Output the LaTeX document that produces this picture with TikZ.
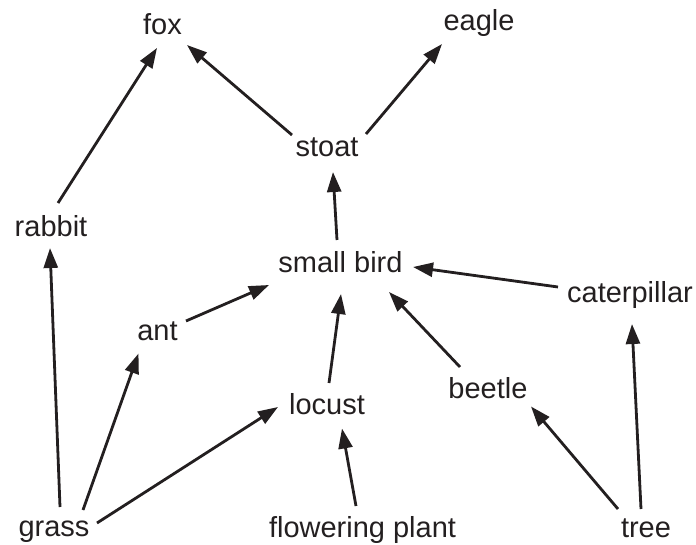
\documentclass[tikz,border=0pt]{standalone}
\usepackage{fontspec}
\setmainfont{Liberation Sans}
\usetikzlibrary{arrows.meta}
\definecolor{ink}{HTML}{231F20}
\begin{document}
\begin{tikzpicture}[x=1pt,y=-1pt,
  lbl/.style={anchor=base,inner sep=0pt,text=ink,font=\fontsize{29}{34}\selectfont},
  feed/.style={draw=ink,line width=2.8pt,-{Triangle[length=20pt,width=14pt]}}]
\useasboundingbox (0,0) rectangle (696,545);
\node[lbl] (fox) at (162.5,35) {fox};
\node[lbl] (eagle) at (479,31) {eagle};
\node[lbl] (stoat) at (327,157) {stoat};
\node[lbl] (rabbit) at (51,237) {rabbit};
\node[lbl] (bird) at (340.5,273) {small bird};
\node[lbl] (cat) at (630,303) {caterpillar};
\node[lbl] (ant) at (157.5,341) {ant};
\node[lbl] (locust) at (327,414) {locust};
\node[lbl] (beetle) at (488,398) {beetle};
\node[lbl] (grass) at (54,536) {grass};
\node[lbl] (plant) at (362.5,537) {flowering plant};
\node[lbl] (tree) at (646,537) {tree};
\draw[feed] ([shift={(7,-34)}]rabbit.base) -- ([shift={(-5.5,13)}]fox.base);
\draw[feed] ([shift={(-35,-22)}]stoat.base) -- ([shift={(24.5,10)}]fox.base);
\draw[feed] ([shift={(39,-23)}]stoat.base) -- ([shift={(-37,13)}]eagle.base);
\draw[feed] ([shift={(-3.5,-33)}]bird.base) -- ([shift={(6,15)}]stoat.base);
\draw[feed] ([shift={(-72,-16)}]cat.base) -- ([shift={(72.5,-6)}]bird.base);
\draw[feed] ([shift={(28.5,-20)}]ant.base) -- ([shift={(-71.5,12)}]bird.base);
\draw[feed] ([shift={(2,-31)}]locust.base) -- ([shift={(0.5,21)}]bird.base);
\draw[feed] ([shift={(-28,-31)}]beetle.base) -- ([shift={(48.5,19)}]bird.base);
\draw[feed] ([shift={(6,-29)}]grass.base) -- ([shift={(-1,11)}]rabbit.base);
\draw[feed] ([shift={(29,-26)}]grass.base) -- ([shift={(-19,12.5)}]ant.base);
\draw[feed] ([shift={(43,-13)}]grass.base) -- ([shift={(-49,-7)}]locust.base);
\draw[feed] ([shift={(-6.5,-31)}]plant.base) -- ([shift={(15,14.5)}]locust.base);
\draw[feed] ([shift={(-28,-28)}]tree.base) -- ([shift={(43,8.5)}]beetle.base);
\draw[feed] ([shift={(-5,-28)}]tree.base) -- ([shift={(2,21)}]cat.base);
\end{tikzpicture}
\end{document}
